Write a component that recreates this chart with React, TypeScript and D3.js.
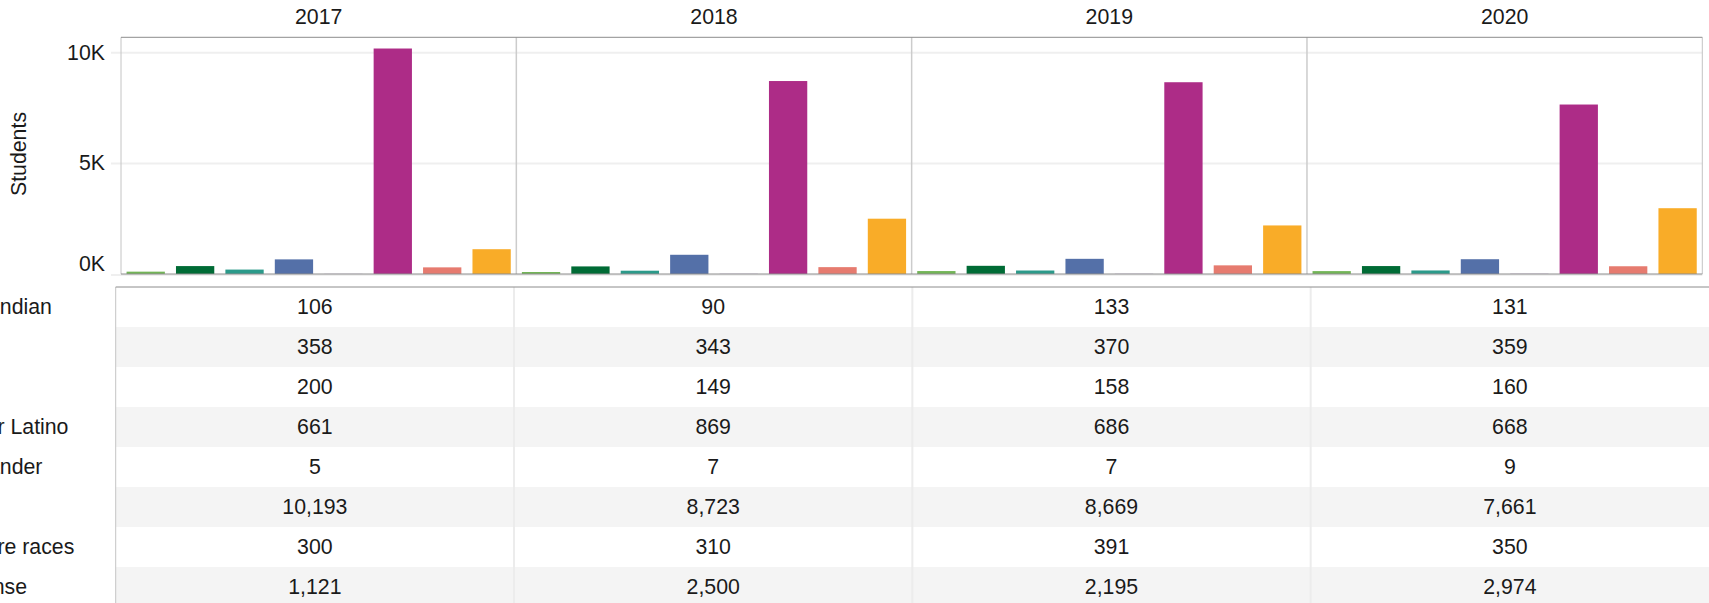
import React from "react";
import * as d3 from "d3";

const years = ["2017", "2018", "2019", "2020"];
const categories = [
  "American Indian",
  "Asian",
  "Black",
  "Hispanic or Latino",
  "Pacific Islander",
  "White",
  "Two or more races",
  "No Response",
];
const categoryColors = [
  "#72b556",
  "#006b35",
  "#2b9a8a",
  "#5470a8",
  "#8e6bb0",
  "#ad2c87",
  "#e67b6f",
  "#f9ac28",
];
const values2017 = [106, 358, 200, 661, 5, 10193, 300, 1121];
const values2018 = [90, 343, 149, 869, 7, 8723, 310, 2500];
const values2019 = [133, 370, 158, 686, 7, 8669, 391, 2195];
const values2020 = [131, 359, 160, 668, 9, 7661, 350, 2974];
const seriesByYear = [values2017, values2018, values2019, values2020];
const yTicks = [0, 5000, 10000];
const yAxisTitle = "Students";

const W = 1709;
const H = 603;
const FONT = "'Liberation Sans', Arial, sans-serif";

export default function App() {
  const plotLeft = 121;
  const plotRight = 1702.3;
  const plotTop = 37.3;
  const plotBottom = 274;
  const tableLeft = 115.7;
  const tableRight = W;
  const tableTop = 287;
  const rowH = 40;

  const yearScale = d3.scaleBand<string>().domain(years).range([plotLeft, plotRight]).padding(0);
  const y = d3.scaleLinear().domain([0, 10700]).range([plotBottom, plotTop]);
  const tableX = d3.scaleBand<string>().domain(years).range([tableLeft, tableRight]).padding(0);
  const fmt = d3.format(",");
  const tickFmt = (v: number) => `${v / 1000}K`;

  return (
    <svg
      width={W}
      height={H}
      style={{ position: "absolute", left: 0, top: 0, background: "#fff" }}
      fontFamily={FONT}
    >
      {/* gridlines */}
      {yTicks.map((t) => (
        <line
          key={"g" + t}
          x1={111}
          x2={plotRight}
          y1={y(t) + (t === 0 ? 1 : 0)}
          y2={y(t) + (t === 0 ? 1 : 0)}
          stroke="#efefef"
          strokeWidth={2}
        />
      ))}
      {/* y tick labels */}
      {yTicks.map((t) => (
        <text
          key={"t" + t}
          x={105}
          y={Math.min(y(t), plotBottom - 10.5)}
          textAnchor="end"
          dominantBaseline="central"
          fontSize={21.3}
          fill="#1a1a1a"
        >
          {tickFmt(t)}
        </text>
      ))}
      <text
        transform={`translate(19,154) rotate(-90)`}
        textAnchor="middle"
        dominantBaseline="central"
        fontSize={21.3}
        fill="#1a1a1a"
      >
        {yAxisTitle}
      </text>

      {/* panels */}
      {years.map((yr, i) => {
        const x0 = yearScale(yr)!;
        const xb = d3
          .scaleBand<string>()
          .domain(categories)
          .range([x0, x0 + yearScale.bandwidth()])
          .paddingInner(0.225)
          .paddingOuter(0.1125);
        return (
          <g key={yr}>
            <text
              x={x0 + yearScale.bandwidth() / 2}
              y={17}
              textAnchor="middle"
              dominantBaseline="central"
              fontSize={21.3}
              fill="#1a1a1a"
            >
              {yr}
            </text>
            {categories.map((c, j) => {
              const v = seriesByYear[i][j];
              return (
                <rect
                  key={c}
                  x={xb(c)!}
                  y={y(v)}
                  width={xb.bandwidth()}
                  height={plotBottom - y(v)}
                  fill={categoryColors[j]}
                />
              );
            })}
            {i > 0 && (
              <line x1={x0} x2={x0} y1={plotTop} y2={plotBottom} stroke="#cccccc" strokeWidth={1.5} />
            )}
          </g>
        );
      })}
      {/* frame */}
      <line x1={plotLeft} x2={plotLeft} y1={plotTop} y2={plotBottom} stroke="#c4c4c4" strokeWidth={1} />
      <line x1={plotRight} x2={plotRight} y1={plotTop} y2={plotBottom} stroke="#c4c4c4" strokeWidth={1} />
      <line x1={plotLeft} x2={plotRight} y1={plotTop} y2={plotTop} stroke="#8c8c8c" strokeWidth={1} />
      <line x1={plotLeft} x2={plotRight} y1={plotBottom} y2={plotBottom} stroke="#8c8c8c" strokeWidth={1} />

      {/* table */}
      {categories.map((c, j) => {
        const top = tableTop + j * rowH;
        return (
          <g key={"row" + c}>
            <rect
              x={tableLeft}
              y={top}
              width={tableRight - tableLeft}
              height={rowH}
              fill={j % 2 === 1 ? "#f4f4f4" : "#ffffff"}
            />
            <text x={-102} y={top + rowH / 2} dominantBaseline="central" fontSize={21.3} fill="#1a1a1a">
              {c}
            </text>
            {years.map((yr, i) => (
              <text
                key={yr}
                x={tableX(yr)! + tableX.bandwidth() / 2}
                y={top + rowH / 2}
                textAnchor="middle"
                dominantBaseline="central"
                fontSize={21.3}
                fill="#1a1a1a"
              >
                {fmt(seriesByYear[i][j])}
              </text>
            ))}
          </g>
        );
      })}
      {years.slice(1).map((yr) => (
        <line
          key={"cd" + yr}
          x1={tableX(yr)!}
          x2={tableX(yr)!}
          y1={tableTop}
          y2={H}
          stroke="#ececec"
          strokeWidth={2}
        />
      ))}
      <line x1={tableLeft} x2={tableLeft} y1={tableTop} y2={H} stroke="#c4c4c4" strokeWidth={1} />
      <line x1={tableLeft} x2={tableRight} y1={tableTop} y2={tableTop} stroke="#8c8c8c" strokeWidth={1} />
    </svg>
  );
}
